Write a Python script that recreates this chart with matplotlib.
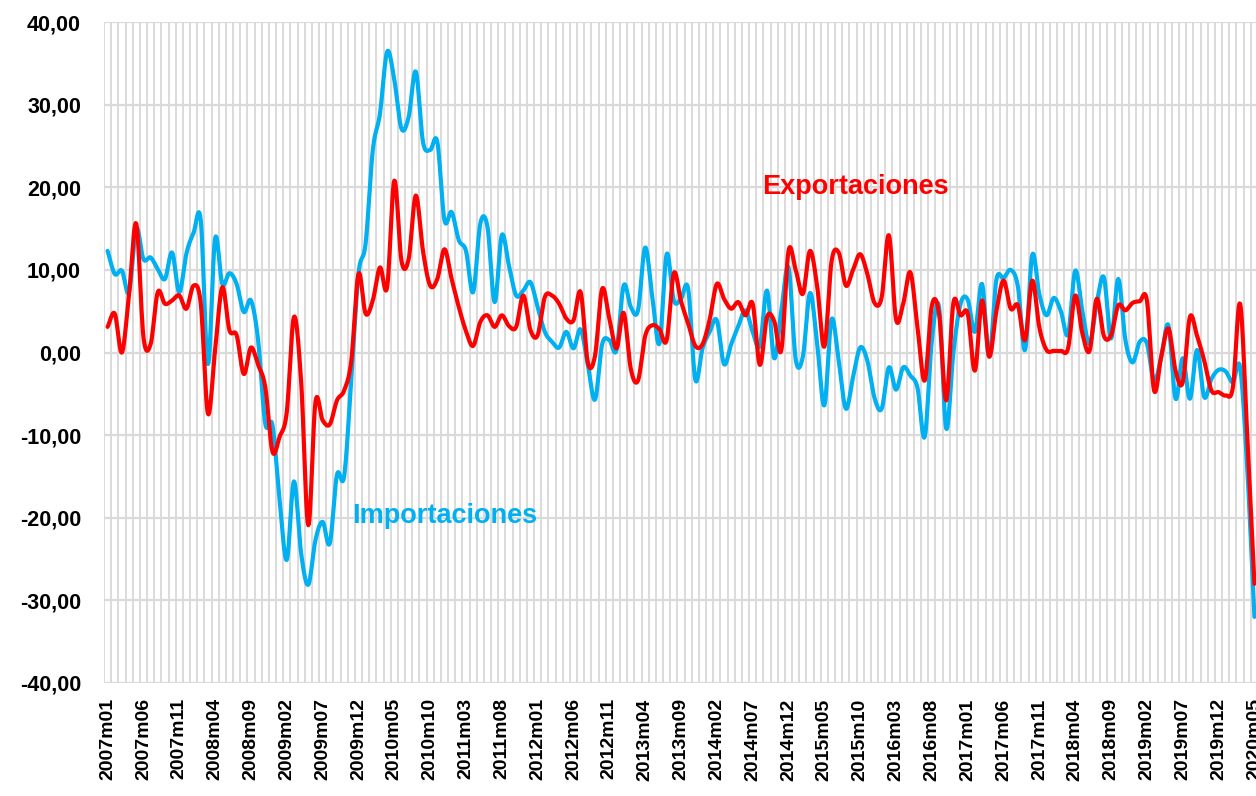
import numpy as np
import matplotlib
matplotlib.use('Agg')
import matplotlib.pyplot as plt

# monthly year-on-year growth, 2007m01 .. 2020m05
importaciones = [12.3, 9.5, 9.9, 7.3, 15.0, 11.3, 11.5, 10.1, 8.9, 12.1,
                 7.3, 12.0, 14.5, 16.0, -1.4, 13.8, 8.3, 9.6, 8.3, 4.9,
                 6.3, 1.5, -8.6, -8.8, -17.9, -25.1, -15.6, -24.3, -28.1, -22.7,
                 -20.5, -23.1, -14.8, -15.0, -3.3, 9.5, 13.2, 24.5, 28.9, 36.4,
                 33.0, 27.1, 28.5, 34.0, 25.5, 24.5, 25.5, 16.0, 17.0, 13.6,
                 12.3, 7.3, 15.6, 15.2, 6.1, 14.2, 10.5, 6.9, 7.5, 8.5,
                 5.5, 2.5, 1.3, 0.6, 2.5, 0.5, 2.8, -1.5, -5.7, 1.0,
                 1.5, 0.3, 8.1, 5.5, 5.1, 12.7, 6.7, 1.1, 11.9, 6.3,
                 6.5, 7.7, -3.3, 0.5, 2.5, 3.9, -1.4, 1.0, 3.2, 5.1,
                 2.5, 0.8, 7.5, -0.7, 5.1, 10.3, -0.8, -0.5, 7.2, 1.0,
                 -6.4, 4.0, -1.0, -6.8, -3.0, 0.6, -1.0, -5.5, -6.8, -1.8,
                 -4.5, -1.8, -2.8, -4.3, -10.2, 1.5, 5.5, -9.2, 0.0, 5.9,
                 6.4, 2.5, 8.3, -0.5, 8.8, 9.0, 10.0, 8.0, 0.3, 11.8,
                 7.0, 4.5, 6.6, 5.0, 2.2, 9.9, 5.0, 1.0, 6.0, 9.1,
                 1.7, 8.9, 1.5, -1.2, 1.3, 1.1, -3.4, -0.6, 3.3, -5.6,
                 -0.7, -5.6, 0.3, -5.4, -3.2, -2.1, -2.3, -3.6, -1.8, -14.0,
                 -32.0]

exportaciones = [3.1, 4.7, 0.0, 7.1, 15.6, 1.9, 1.0, 7.3, 5.9, 6.3,
                 6.9, 5.3, 8.1, 5.9, -7.4, 0.3, 7.9, 2.7, 2.1, -2.6,
                 0.6, -1.5, -4.2, -12.0, -10.2, -7.2, 4.3, -3.5, -20.9, -6.0,
                 -8.2, -8.7, -5.8, -4.6, -1.0, 9.5, 4.7, 6.3, 10.3, 7.9,
                 20.8, 11.1, 11.3, 19.0, 12.3, 8.1, 8.9, 12.5, 8.9, 5.5,
                 2.6, 0.8, 3.7, 4.5, 3.1, 4.5, 3.2, 3.1, 6.9, 2.7,
                 2.1, 6.7, 6.9, 5.9, 4.1, 3.9, 7.3, -1.2, -0.4, 7.7,
                 4.1, 0.5, 4.8, -2.0, -3.4, 2.0, 3.3, 2.8, 1.5, 9.6,
                 6.2, 3.5, 0.8, 1.0, 4.0, 8.3, 6.5, 5.3, 6.1, 4.5,
                 5.9, -1.5, 4.3, 3.8, 0.3, 12.3, 10.0, 7.1, 12.3, 8.0,
                 0.7, 11.0, 12.1, 8.1, 10.0, 11.9, 9.5, 6.0, 6.7, 14.2,
                 4.0, 5.9, 9.7, 3.0, -3.4, 5.7, 4.7, -5.8, 6.0, 4.5,
                 4.7, -2.2, 6.3, -0.5, 5.0, 8.7, 5.3, 5.7, 1.5, 8.7,
                 3.0, 0.3, 0.2, 0.2, 0.5, 6.9, 2.3, 0.2, 6.5, 2.0,
                 2.1, 5.7, 5.1, 6.0, 6.2, 6.3, -4.6, -0.5, 2.9, -2.2,
                 -3.6, 4.3, 2.0, -1.0, -4.6, -4.8, -5.2, -4.2, 5.9, -10.0,
                 -28.0]

# category labels: every month, only every 5th one shown
meses = ['%dm%02d' % (2007 + k // 12, k % 12 + 1) for k in range(len(importaciones))]

col_imp = '#00B0F0'
col_exp = '#FF0000'
grid_col = '#DADADA'
fontname = 'Liberation Sans'


def smooth(ys, n=12):
    # catmull-rom curve through the points (like excel "smoothed line")
    ys = np.asarray(ys, float)
    xs = np.arange(len(ys), dtype=float)
    px = np.concatenate([[2*xs[0]-xs[1]], xs, [2*xs[-1]-xs[-2]]])
    py = np.concatenate([[2*ys[0]-ys[1]], ys, [2*ys[-1]-ys[-2]]])
    t = np.linspace(0, 1, n, endpoint=False)
    outx, outy = [], []
    for k in range(1, len(px)-2):
        for p, o in ((px, outx), (py, outy)):
            p0, p1, p2, p3 = p[k-1], p[k], p[k+1], p[k+2]
            o.extend(0.5*((2*p1) + (-p0+p2)*t + (2*p0-5*p1+4*p2-p3)*t**2
                          + (-p0+3*p1-3*p2+p3)*t**3))
    outx.append(xs[-1])
    outy.append(ys[-1])
    return np.array(outx), np.array(outy)


fig = plt.figure(figsize=(12.56, 7.96), dpi=100)
ax = fig.add_axes([104/1256., 113/796., 1154/1256., 661/796.])

n = len(importaciones)
ax.set_xlim(-0.5, n-0.5)
ax.set_ylim(-40, 40)

# grid: one vertical line per month (category borders), horizontal every 10
ax.set_xticks(np.arange(-0.5, n, 1.0), minor=True)
ax.set_xticks(np.arange(0, n, 5))
ax.set_xticklabels([meses[k] for k in range(0, n, 5)], rotation=90,
                   fontsize=14, fontweight='bold', fontname=fontname)
ax.set_yticks(np.arange(-40, 41, 10))
ax.yaxis.set_major_formatter(plt.FuncFormatter(lambda v, p: ('%.2f' % v).replace('.', ',')))
for lab in ax.get_yticklabels():
    lab.set_fontsize(15.5)
    lab.set_fontweight('bold')
    lab.set_fontname(fontname)
ax.grid(which='minor', axis='x', color=grid_col, linewidth=1.4)
ax.grid(which='major', axis='y', color=grid_col, linewidth=1.6)
ax.grid(which='major', axis='x', visible=False)
ax.tick_params(which='both', length=0)
ax.tick_params(axis='y', pad=16.5)
ax.tick_params(axis='x', pad=11)
for s in ax.spines.values():
    s.set_visible(False)
ax.set_axisbelow(True)

xi, yi = smooth(importaciones)
xe, ye = smooth(exportaciones)
ax.plot(xi, yi, color=col_imp, linewidth=3.0, solid_capstyle='round', clip_on=False)
ax.plot(xe, ye, color=col_exp, linewidth=3.0, solid_capstyle='round', clip_on=False)

ax.text(91.3, 20.0, 'Exportaciones', color=col_exp, fontsize=19.5, fontweight='bold',
        fontname=fontname, ha='left', va='center')
ax.text(34.1, -19.8, 'Importaciones', color=col_imp, fontsize=19.5, fontweight='bold',
        fontname=fontname, ha='left', va='center')

plt.savefig('out.png', dpi=100)
plt.close(fig)
